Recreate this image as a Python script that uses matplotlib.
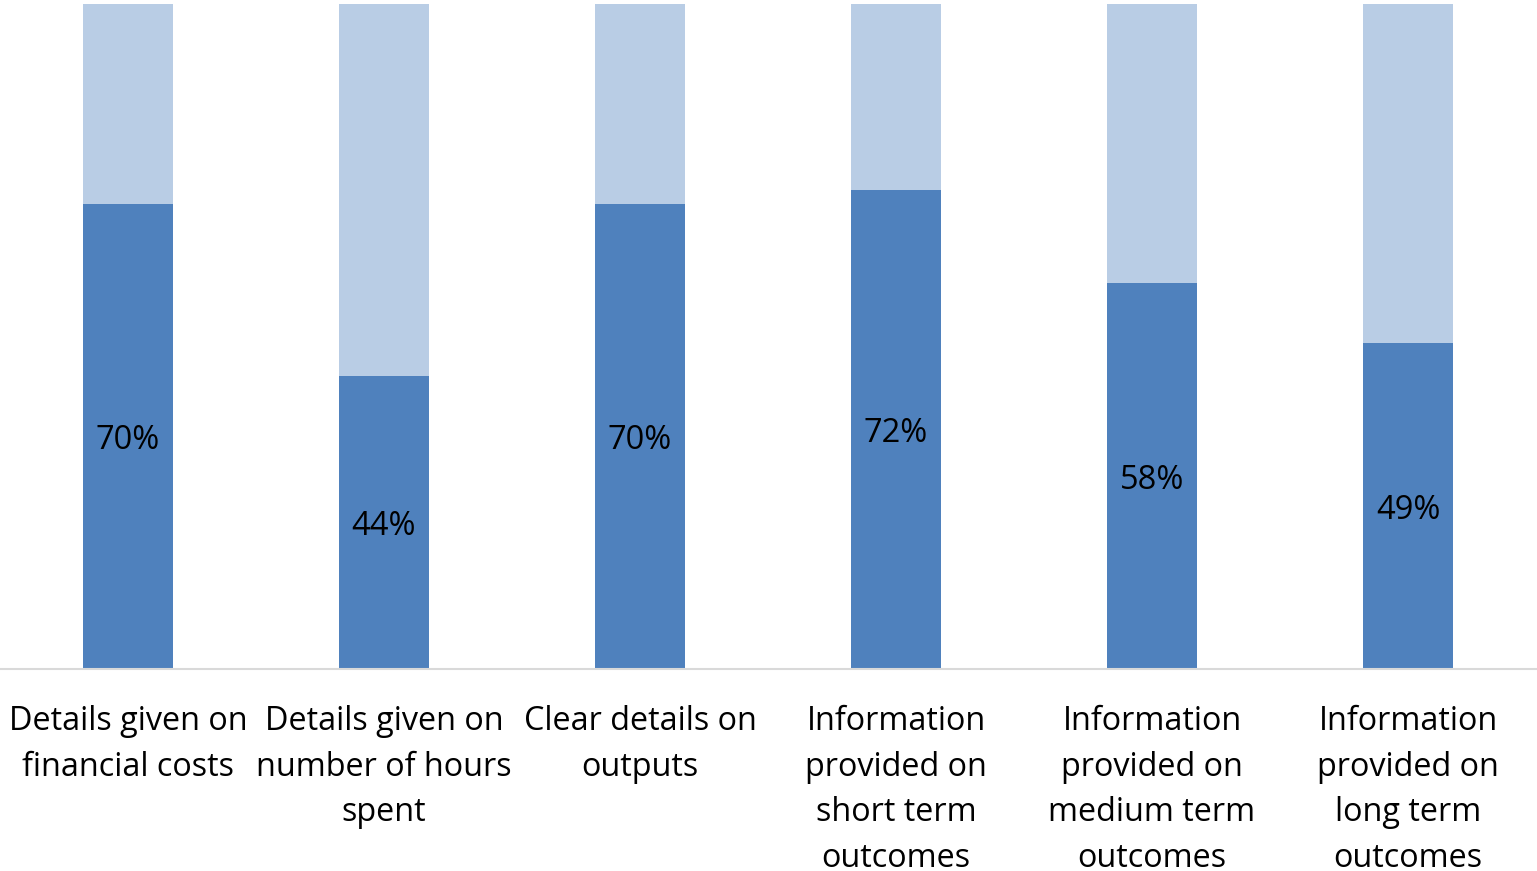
import numpy as np
import matplotlib.pyplot as plt

plt.rcParams['font.family'] = ['Open Sans', 'DejaVu Sans']

categories = [
    "Details given on\nfinancial costs",
    "Details given on\nnumber of hours\nspent",
    "Clear details on\noutputs",
    "Information\nprovided on\nshort term\noutcomes",
    "Information\nprovided on\nmedium term\noutcomes",
    "Information\nprovided on\nlong term\noutcomes",
]
yes_share = [70, 44, 70, 72, 58, 49]
no_share = [100 - v for v in yes_share]

fig = plt.figure(figsize=(15.37, 8.71), dpi=100)
ax = fig.add_axes([0, 0.2319, 1536 / 1537, 0.7635])

x = np.arange(len(categories))
w = 0.355
ax.bar(x, yes_share, w, color='#4F81BD')
ax.bar(x, no_share, w, bottom=yes_share, color='#B9CDE5')

for xi, v in zip(x, yes_share):
    ax.text(xi, v / 2, f"{v}%", ha='center', va='center_baseline', fontsize=23.5, color='black')

ax.set_xlim(-0.5, len(categories) - 0.5)
ax.set_ylim(0, 100)
ax.set_xticks(x)
ax.set_xticklabels(categories, fontsize=23.3, linespacing=1.5)
ax.tick_params(axis='x', length=0, pad=26)
ax.set_yticks([])
for s in ['top', 'left', 'right']:
    ax.spines[s].set_visible(False)
ax.spines['bottom'].set_color('#D9D9D9')
ax.spines['bottom'].set_linewidth(1.5)

fig.savefig('out.png', dpi=100)
